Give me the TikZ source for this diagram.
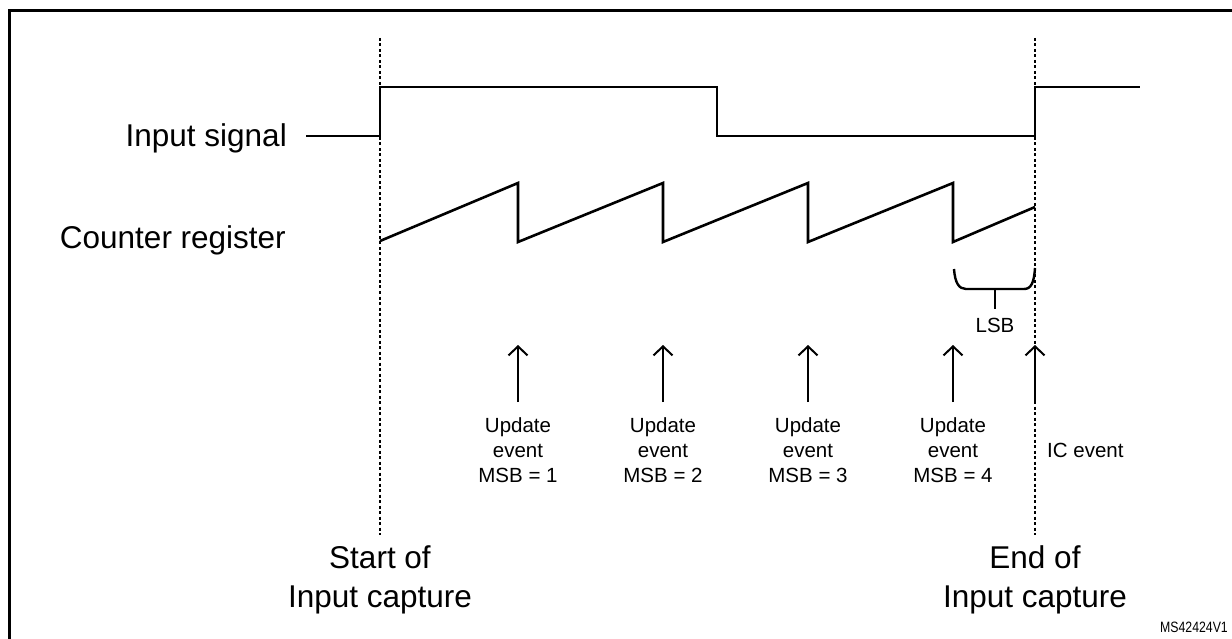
\documentclass[tikz,border=0pt]{standalone}
\usepackage{fontspec}
\setmainfont{Liberation Sans}
\usetikzlibrary{arrows.meta}
\tikzset{
  sig/.style={line width=2.6pt, line join=miter},
  dotline/.style={line width=1.7pt, dash pattern=on 3pt off 2.5pt},
  evarrow/.style={line width=2pt, -{Straight Barb[length=9pt,width=19pt,line width=2pt]}},
  biglbl/.style={font=\fontsize{31.5}{40}\selectfont, inner sep=0pt},
  smalllbl/.style={font=\fontsize{20.5}{25.5}\selectfont, inner sep=0pt, align=center},
  frameline/.style={line width=3pt},
}
\begin{document}
\begin{tikzpicture}[x=1pt,y=-1pt]
\useasboundingbox (0,0) rectangle (1232,639);
% frame
\coordinate (fbl) at (9.5,645);
\coordinate (ftl) at (9.5,10.5);
\coordinate (ftr) at (1240,10.5);
\draw[frameline] (fbl) -- (ftl) -- (ftr);
% dotted time markers
\coordinate (s0) at (380,38);
\coordinate (s1) at (380,535);
\coordinate (e0) at (1035,38);
\coordinate (e1) at (1035,535);
\draw[dotline] (s0) -- (s1);
\draw[dotline] (e0) -- (e1);
% input signal
\node[biglbl, anchor=base east] (insig) at (287,147) {Input signal};
\coordinate (i0) at (306,136);
\coordinate (i1) at (380,136);
\coordinate (i2) at (380,87);
\coordinate (i3) at (717,87);
\coordinate (i4) at (717,136);
\coordinate (i5) at (1035,136);
\coordinate (i6) at (1035,87);
\coordinate (i7) at (1140,87);
\draw[sig] (i0) -- (i1) -- (i2) -- (i3) -- (i4) -- (i5) -- (i6) -- (i7);
% counter register
\node[biglbl, anchor=base east] (cnt) at (286,249) {Counter register};
\coordinate (c0) at (380,241);
\coordinate (c1) at (518,183);
\coordinate (c2) at (518,242);
\coordinate (c3) at (663,183);
\coordinate (c4) at (663,242);
\coordinate (c5) at (808,183);
\coordinate (c6) at (808,242);
\coordinate (c7) at (953,183);
\coordinate (c8) at (953,242);
\coordinate (c9) at (1035,207);
\draw[sig] (c0) -- (c1) -- (c2) -- (c3) -- (c4) -- (c5) -- (c6) -- (c7) -- (c8) -- (c9);
% LSB brace
\coordinate (b0) at (954,269);
\coordinate (b1) at (966,289);
\coordinate (b2) at (1024,289);
\coordinate (b3) at (1035,268);
\coordinate (bm) at (995,289);
\coordinate (bt) at (995,309);
\draw[line width=2.4pt] (b0) .. controls (955,283) and (959,289) .. (b1) -- (b2) .. controls (1031,289) and (1034,283) .. (b3);
\draw[line width=2.4pt] (bm) -- (bt);
\node[smalllbl, anchor=base] (lsb) at (995,332) {LSB};
% event arrows
\foreach \n/\x/\m in {a1/518/1, a2/663/2, a3/808/3, a4/953/4}{
  \coordinate (\n b) at (\x,402);
  \coordinate (\n t) at (\x,345);
  \draw[evarrow] (\n b) -- (\n t);
  \node[smalllbl, anchor=base] (\n l1) at (\x,432) {Update};
  \node[smalllbl, anchor=base] (\n l2) at (\x,457) {event};
  \node[smalllbl, anchor=base] (\n l3) at (\x,482) {MSB = \m};
}
\coordinate (icb) at (1035,402);
\coordinate (ict) at (1035,345);
\draw[evarrow] (icb) -- (ict);
\node[smalllbl, anchor=base west] (ic) at (1047,457) {IC event};
% bottom labels
\node[biglbl, anchor=base] (st1) at (380,568) {Start of};
\node[biglbl, anchor=base] (st2) at (380,607) {Input capture};
\node[biglbl, anchor=base] (en1) at (1035,568) {End of};
\node[biglbl, anchor=base] (en2) at (1035,607) {Input capture};
\node[inner sep=0pt, anchor=base east, font=\fontsize{15}{18}\selectfont, xscale=0.82] (ms) at (1228,632) {MS42424V1};
\end{tikzpicture}
\end{document}
